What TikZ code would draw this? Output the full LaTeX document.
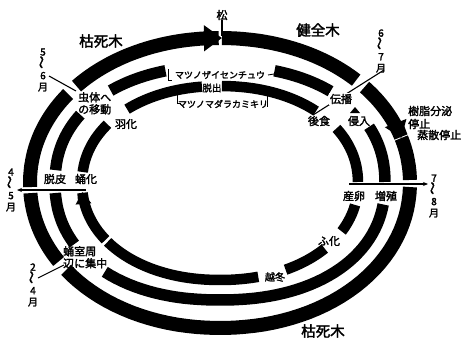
\documentclass[tikz,border=0pt]{standalone}
\usepackage{fontspec}
\usepackage{graphicx}
\newfontfamily\jp[AutoFakeBold=2.2]{Noto Sans CJK JP}
\usetikzlibrary{arrows.meta}
\tikzset{declare function={sr(\a,\p)=1/((max(abs(cos(\a)),0.01)^\p+max(abs(sin(\a)),0.01)^\p)^(1/\p));}}
\newcommand{\bandseg}[7][]{\draw[line width=#7,#1] plot[domain=#5:#6, samples=50, variable=\t] ({220+#2*sr(\t,#4)*cos(\t)},{183+#3*sr(\t,#4)*sin(\t)});}
\newcommand{\vmon}[2]{#1\\[-1pt]\rotatebox{90}{\fontsize{13}{13}\selectfont〜}\\[-1pt]#2\\月}
\tikzset{
  lab/.style={font=\jp\bfseries\fontsize{11}{12}\selectfont, inner sep=0pt, align=center},
  biglab/.style={font=\jp\bfseries\fontsize{14.5}{15}\selectfont, inner sep=0pt},
  kata/.style={font=\jp\bfseries\fontsize{9}{9}\selectfont, inner sep=0pt},
  mon/.style={font=\jp\bfseries\fontsize{10}{11.5}\selectfont, align=center, inner sep=0pt},
  thinline/.style={line width=1.1pt},
}
\begin{document}
\begin{tikzpicture}[x=1pt,y=-1pt]
\useasboundingbox (0,0) rectangle (465,345);
% outer ring
\bandseg{190}{145}{2.05}{178.4}{217.5}{14pt}
\bandseg[-{Triangle[length=18pt,width=25pt]}]{190}{145}{2.05}{221.5}{270.6}{14pt}
\bandseg{190}{145}{2.05}{270.6}{315.3}{14pt}
\bandseg[-{Triangle[length=16pt,width=22pt]}]{190}{145}{2.05}{319}{342}{14pt}
\bandseg{190}{145}{2.05}{342}{358.8}{14pt}
\bandseg{190}{145}{2.05}{1.6}{143.5}{14pt}
\bandseg{190}{145}{2.05}{147.5}{176}{14pt}
% middle ring
\bandseg{165}{117}{2.2}{186.3}{214.6}{11.5pt}
\bandseg{165}{117}{2.2}{230}{251}{11.5pt}
\bandseg{165}{117}{2.2}{289}{310.5}{11.5pt}
\bandseg{165}{117}{2.2}{332}{359.5}{11.5pt}
\bandseg{165}{117}{2.2}{10.5}{132.6}{11.5pt}
\bandseg{165}{117}{2.2}{149.4}{175.1}{11.5pt}
% inner ring
\bandseg{138}{97}{2.1}{186.5}{216.6}{10.5pt}
\bandseg{138}{97}{2.1}{228.5}{262.5}{10.5pt}
\bandseg{138}{97}{2.1}{270.8}{313.2}{10.5pt}
\bandseg{138}{97}{2.1}{326.3}{359.4}{10.5pt}
\bandseg{138}{97}{2.1}{13}{29.5}{10.5pt}
\bandseg{138}{97}{2.1}{41.7}{62}{10.5pt}
\bandseg{138}{97}{2.1}{74}{143.3}{10.5pt}
\bandseg[-{Triangle[length=12pt,width=15pt]}]{138}{97}{2.1}{144.8}{174.7}{10.5pt}

% labels
\node[biglab] (ksm1) at (101,41) {枯死木};
\node[biglab] (kzm) at (318,30) {健全木};
\node[biglab] (ksm2) at (323,331) {枯死木};
\node[lab] (matsu) at (222,15) {松};
\node[mon] (m67) at (381,51) {\vmon{6}{7}};
\node[mon] (m56) at (43,70) {\vmon{5}{6}};
\node[mon] (m45) at (11,190) {\vmon{4}{5}};
\node[mon] (m78) at (434,196) {\vmon{7}{8}};
\node[mon] (m24) at (33,285) {\vmon{2}{4}};

% connector lines
\coordinate (matsuTip) at (222,36);
\draw[thinline] (matsu.south) -- (matsuTip);
\coordinate (l67a) at (384,70);
\coordinate (l67b) at (313,115);
\draw[thinline] (l67a) -- (l67b);
\coordinate (l56a) at (49,76);
\coordinate (l56b) at (76,91);
\draw[thinline] (l56a) -- (l56b);
\coordinate (l45a) at (86,190);
\coordinate (l45b) at (17,190);
\draw[thinline,-{Stealth[length=5pt,width=4pt]}] (l45a) -- (l45b);
\coordinate (l78a) at (349,184);
\coordinate (l78b) at (428,184);
\draw[thinline,-{Stealth[length=5pt,width=4pt]}] (l78a) -- (l78b);
\coordinate (l24a) at (38,278);
\coordinate (l24b) at (64,265);
\draw[thinline] (l24a) -- (l24b);

% inner labels
\node[lab, fill=white, inner sep=1pt] (denpa) at (341,99) {伝播};
\node[lab] (koshoku) at (319,121) {後食};
\node[lab] (shinnyu) at (359,121) {侵入};
\fill (350,113) -- (355,107) -- (360,113) -- cycle;
\node[lab, anchor=west] (jushi) at (408,111) {樹脂分泌};
\node[lab, anchor=west] (teishi) at (408,124) {停止};
\node[lab, anchor=west] (jousan) at (417,135) {蒸散停止};
\node[lab] (sanran) at (354,196) {産卵};
\node[lab] (zoshoku) at (386,196) {増殖};
\node[lab] (dappi) at (55,179) {脱皮};
\node[lab] (youka) at (86,179) {蛹化};
\node[lab, align=left, anchor=north west] (chutai) at (78,92) {虫体へ\\の移動};
\node[lab] (uka) at (126,124) {羽化};
\node[kata] (nema) at (220,75) {マツノザイセンチュウ};
\node[lab, font=\jp\bfseries\fontsize{9.5}{10}\selectfont] (dasshutsu) at (212,88) {脱出};
\node[kata] (kamikiri) at (223,104) {マツノマダラカミキリ};
\node[lab] (fuka) at (329,241) {ふ化};
\node[lab, font=\jp\bfseries\fontsize{10}{10}\selectfont] (ettou) at (275,277) {越冬};
\node[lab, align=left, anchor=north west] (youshitsu) at (63,246) {蛹室周\\辺に集中};

% brackets
\draw[line width=0.9pt] (168,69) -- (168,80) -- (172,80);
\draw[line width=0.9pt] (268,75) -- (274,74);
\draw[line width=0.9pt] (177,95) -- (177,103) -- (181,103);
\draw[line width=0.9pt] (267,96) -- (267,107);
\end{tikzpicture}
\end{document}
